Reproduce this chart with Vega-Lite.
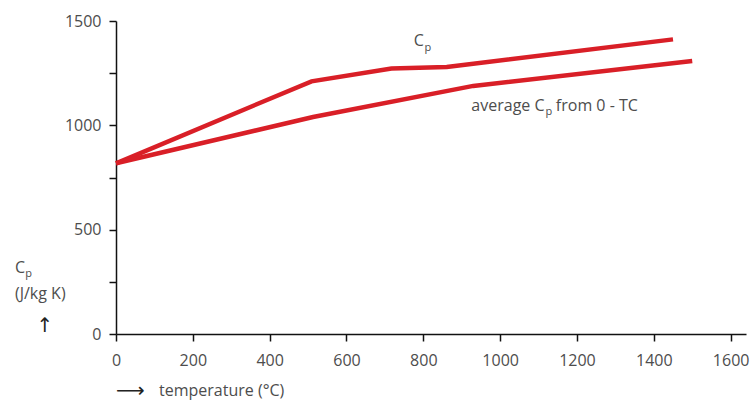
{
  "$schema": "https://vega.github.io/schema/vega-lite/v6.json",
  "autosize": "none",
  "width": 630,
  "height": 313,
  "padding": {"left": 116, "top": 21, "right": 10, "bottom": 67},
  "background": "white",
  "config": {
    "view": {"stroke": null},
    "font": "Open Sans",
    "axis": {
      "domainColor": "#111111",
      "domainWidth": 1.5,
      "tickColor": "#111111",
      "tickWidth": 1.5,
      "tickSize": 7,
      "grid": false,
      "labelFont": "Open Sans",
      "labelFontSize": 16,
      "labelColor": "#4d4d4d",
      "format": "d",
      "title": null
    }
  },
  "datasets": {
    "curves": [
      {"series": "Cp", "temp": 0, "cp": 818},
      {"series": "Cp", "temp": 509, "cp": 1211},
      {"series": "Cp", "temp": 717, "cp": 1272},
      {"series": "Cp", "temp": 861, "cp": 1280},
      {"series": "Cp", "temp": 1450, "cp": 1412},
      {"series": "avg", "temp": 0, "cp": 818},
      {"series": "avg", "temp": 513, "cp": 1040},
      {"series": "avg", "temp": 930, "cp": 1189},
      {"series": "avg", "temp": 1500, "cp": 1308}
    ],
    "labels": [
      {"kind": "main", "temp": 775, "cp": 1381, "text": "C"},
      {"kind": "sub", "temp": 803, "cp": 1355, "text": "p"},
      {"kind": "main", "temp": 925, "cp": 1070, "text": "average C"},
      {"kind": "sub", "temp": 1118, "cp": 1048, "text": "p"},
      {"kind": "main", "temp": 1145, "cp": 1070, "text": "from 0 - TC"},
      {"kind": "main", "temp": -263, "cp": 294, "text": "C"},
      {"kind": "sub", "temp": -236, "cp": 272, "text": "p"},
      {"kind": "main", "temp": -263, "cp": 168, "text": "(J/kg K)"},
      {"kind": "main", "temp": 112, "cp": -297, "text": "temperature (°C)"}
    ],
    "arrows": [
      {"temp": -185, "cp": 38, "text": "↑"},
      {"temp": 37, "cp": -273, "text": "⟶"}
    ]
  },
  "layer": [
    {
      "data": {"name": "curves"},
      "mark": {"type": "line", "color": "#d91f27", "strokeWidth": 4.5, "strokeCap": "butt", "strokeJoin": "miter"},
      "encoding": {
        "x": {"field": "temp", "type": "quantitative", "scale": {"domain": [0, 1640], "nice": false},
              "axis": {"values": [0, 200, 400, 600, 800, 1000, 1200, 1400, 1600], "labelPadding": 11, "labelFlush": false}},
        "y": {"field": "cp", "type": "quantitative", "scale": {"domain": [0, 1500], "nice": false},
              "axis": {"values": [0, 250, 500, 750, 1000, 1250, 1500], "labelPadding": 8,
                       "labelExpr": "datum.value % 500 == 0 ? datum.label : ''"}},
        "detail": {"field": "series"}
      }
    },
    {
      "data": {"name": "labels"},
      "transform": [{"filter": "datum.kind == 'main'"}],
      "mark": {"type": "text", "align": "left", "baseline": "alphabetic", "fontSize": 16, "color": "#4d4d4d", "font": "Open Sans"},
      "encoding": {
        "x": {"field": "temp", "type": "quantitative"},
        "y": {"field": "cp", "type": "quantitative"},
        "text": {"field": "text"}
      }
    },
    {
      "data": {"name": "labels"},
      "transform": [{"filter": "datum.kind == 'sub'"}],
      "mark": {"type": "text", "align": "left", "baseline": "alphabetic", "fontSize": 11, "color": "#4d4d4d", "font": "Open Sans"},
      "encoding": {
        "x": {"field": "temp", "type": "quantitative"},
        "y": {"field": "cp", "type": "quantitative"},
        "text": {"field": "text"}
      }
    },
    {
      "data": {"name": "arrows"},
      "mark": {"type": "text", "align": "center", "baseline": "middle", "fontSize": 20, "color": "#222222", "font": "DejaVu Sans"},
      "encoding": {
        "x": {"field": "temp", "type": "quantitative"},
        "y": {"field": "cp", "type": "quantitative"},
        "text": {"field": "text"}
      }
    }
  ]
}
